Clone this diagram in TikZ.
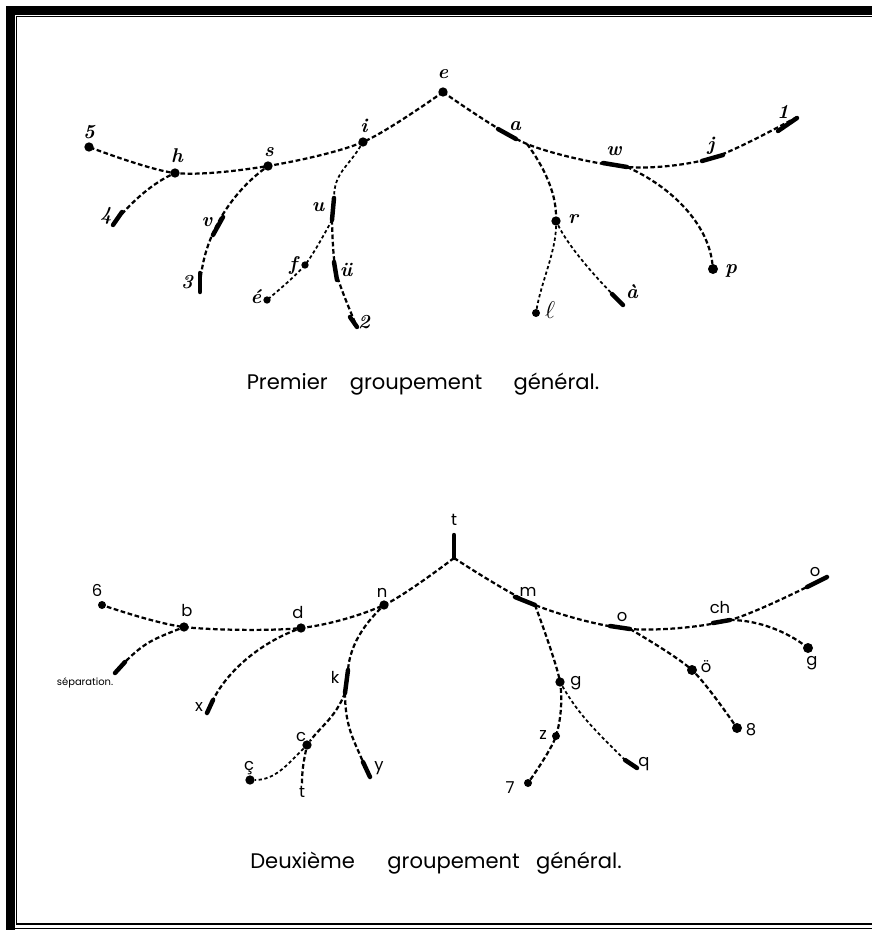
\documentclass[tikz,border=0pt]{standalone}
\usepackage{fontspec}
\newfontfamily\handfont{Poppins}
\usetikzlibrary{calc}
\tikzset{
  link/.style  ={draw=black,line width=1.9pt,dash pattern=on 4pt off 2.2pt},
  fine/.style  ={link,line width=1.5pt,dash pattern=on 2.8pt off 2.2pt},
  bar/.style   ={line width=3.8pt,line cap=round},
  dot/.style   ={circle,fill=black,inner sep=0pt,minimum size=0.28cm},
  lab/.style   ={font=\fontsize{17}{19}\selectfont\bfseries\itshape,inner sep=0pt},
  blab/.style  ={font=\handfont\fontsize{14}{16}\selectfont,inner sep=0pt},
  heading/.style={font=\handfont\fontsize{18}{21}\selectfont,inner sep=0pt},
}
\begin{document}
\begin{tikzpicture}[x=0.03cm,y=-0.03cm]
\useasboundingbox (0,0) rectangle (872,930);
% frame
\fill (6,6) rectangle (15,930);
\fill (6,6) rectangle (872,15);
\draw[line width=0.9pt] (16.7,923.5) -- (16.7,16.7) -- (872,16.7);
\draw[line width=1.6pt] (16,923.7) -- (872,923.7);
\draw[line width=0.9pt] (15,928.5) -- (872,928.5);

% premier groupement
\node[dot] (e) at (443,92) {};
\node[dot] (i) at (363,142) {};
\node[dot] (s) at (268,166) {};
\node[dot] (h) at (175,173) {};
\node[dot] (n5) at (89,147) {};
\node[dot,minimum size=0.22cm] (f) at (305,265) {};
\node[dot,minimum size=0.22cm] (ee) at (267,300) {};
\node[dot] (r) at (556,221) {};
\node[dot,minimum size=0.24cm] (l) at (536,313) {};
\node[dot,minimum size=0.3cm] (p) at (713,269) {};
\coordinate (n4) at (113,225);
\coordinate (n3) at (200,292);
\coordinate (ut) at (334,198);
\coordinate (ub) at (332,220);
\coordinate (uu) at (336,272);
\coordinate (n2) at (357,327);
\coordinate (a) at (527,144);
\coordinate (w) at (627,167);
\coordinate (j) at (712,158);
\coordinate (n1) at (797,117);
\coordinate (ag) at (623,305);
\draw[link] plot[smooth] coordinates {(e) (i) (s) (h) (n5)};
\draw[link] plot[smooth] coordinates {(e) (a) (w) (j) (n1)};
\draw[link] (h) .. controls +(-25,12) and +(15,-20) .. (n4);
\draw[link] (s) .. controls +(-40,30) and +(0,-50) .. (n3);
\draw[fine] (i) .. controls +(-15,25) and +(0,-25) .. (ut);
\draw[fine] plot[smooth] coordinates {(ub) (f) (ee)};
\draw[link] plot[smooth] coordinates {(ub) (uu) (n2)};
\draw[link] (a) .. controls +(15,20) and +(0,-30) .. (r);
\draw[fine] (r) .. controls +(0,30) and +(5,-30) .. (l);
\draw[fine] (r) .. controls +(15,30) and +(-20,-20) .. (ag);
\draw[link] (w) .. controls +(45,20) and +(-5,-45) .. (p);
\foreach \ax/\ay/\bx/\by in {498/129/516/139, 603/163/627/167, 702/161/723/155,
    778/131/797/118, 334/198/332/220, 334/262/337/280, 350/317/357/327,
    223/217/213/235, 200/273/200/292, 122/212/113/225, 612/294/623/305}
  \draw[bar] (\ax,\ay) -- (\bx,\by);
\foreach \nm/\px/\py/\txt in {e/443/74/e, i/364/126/i, s/269/152/s, h/177/156/h,
    5/89/132/5, 4/106/216/4, v/207/222/v, 3/187/282/3, u/318/207/u, f/293/266/f,
    e2/256/297/é, u2/346/270/ü, 2/364/322/2, a/515/126/a, w/614/151/w, j/711/146/j,
    1/783/112/1, r/573/219/r, a2/632/292/à, p/731/271/p}
  \node[lab] (l\nm) at (\px,\py) {\txt};
\node[lab,font=\fontsize{22}{24}\selectfont] (lell) at (550,310) {$\ell$};
\node[heading] (t1) at (423,384) {Premier\hspace{14pt} groupement\hspace{22pt} général.};

% deuxieme groupement
\node[dot] (n) at (384,605) {};
\node[dot] (d) at (301,628) {};
\node[dot] (b) at (184,627) {};
\node[dot,minimum size=0.24cm] (n6) at (102,605) {};
\node[dot] (c) at (307,745) {};
\node[dot] (cc) at (250,780) {};
\node[dot] (gM) at (560,682) {};
\node[dot,minimum size=0.24cm] (z) at (556,736) {};
\node[dot,minimum size=0.24cm] (n7) at (528,783) {};
\node[dot,minimum size=0.3cm] (oo) at (692,670) {};
\node[dot,minimum size=0.3cm] (n8) at (737,728) {};
\node[dot,minimum size=0.3cm] (gR) at (808,648) {};
\coordinate (T) at (454,558);
\coordinate (sep) at (125,662);
\coordinate (xx) at (213,700);
\coordinate (kt) at (348,670);
\coordinate (kb) at (345,693);
\coordinate (tb) at (302,784);
\coordinate (yy) at (363,762);
\coordinate (m) at (535,605);
\coordinate (o) at (630,629);
\coordinate (ch) at (730,620);
\coordinate (oe) at (827,577);
\coordinate (q) at (625,760);
\draw[link] plot[smooth] coordinates {(T) (n) (d) (b) (n6)};
\draw[link] plot[smooth] coordinates {(T) (m) (o) (ch) (oe)};
\draw[link] (b) .. controls +(-30,12) and +(20,-20) .. (sep);
\draw[link] (d) .. controls +(-40,15) and +(15,-30) .. (xx);
\draw[link] (n) .. controls +(-20,20) and +(2,-25) .. (kt);
\draw[link] (kb) .. controls +(-10,25) and +(15,-20) .. (c);
\draw[fine] (c) .. controls +(-20,20) and +(25,0) .. (cc);
\draw[link] (c) .. controls +(-3,15) and +(0,-15) .. (tb);
\draw[link] (kb) .. controls +(0,35) and +(-8,-20) .. (yy);
\draw[link] plot[smooth] coordinates {(m) (gM) (z) (n7)};
\draw[fine] (gM) .. controls +(20,35) and +(-25,-25) .. (q);
\draw[link] plot[smooth] coordinates {(o) (oo) (n8)};
\draw[link] (ch) .. controls +(30,0) and +(-20,-15) .. (gR);
\foreach \ax/\ay/\bx/\by in {454/535/454/558, 125/662/115/673, 213/700/207/713,
    348/670/345/693, 363/762/370/777, 515/597/535/605, 610/626/630/629,
    713/623/730/620, 807/587/827/577, 625/760/637/768}
  \draw[bar] (\ax,\ay) -- (\bx,\by);
\foreach \nm/\px/\py/\txt in {t/454/520/t, n/382/593/n, d/298/612/d, b/187/610/b,
    6/97/590/6, x/199/707/x, k/335/677/k, c/301/737/c, cc/249/768/ç, tb/302/792/t,
    y/379/768/y, m/528/592/m, o/622/617/o, ch/720/607/ch, oe/815/572/o,
    gR/812/663/g, oo/706/667/ö, 8/751/730/8, gM/576/683/g, z/543/735/z,
    7/510/788/7, q/644/764/q}
  \node[blab] (b\nm) at (\px,\py) {\txt};
\node[blab,font=\handfont\fontsize{8.5}{10}\selectfont] (bsep) at (85,683) {séparation.};
\node[heading] (t2) at (436,863) {Deuxième\hspace{23pt} groupement\hspace{9pt} général.};
\end{tikzpicture}
\end{document}
